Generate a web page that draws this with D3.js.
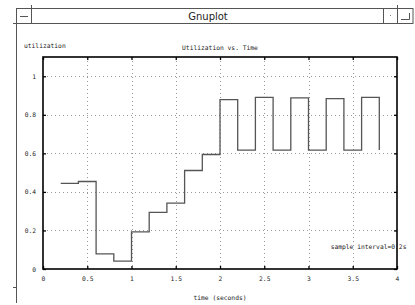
<!DOCTYPE html>
<html>
<head>
<meta charset="utf-8">
<script src="https://cdn.jsdelivr.net/npm/d3@7"></script>
<style>
  html, body { margin: 0; padding: 0; background: #fff; }
  svg { display: block; }
</style>
</head>
<body>
<script>
// ---- data ----
const times = [0.2, 0.4, 0.6, 0.8, 1.0, 1.2, 1.4, 1.6, 1.8, 2.0, 2.2, 2.4, 2.6, 2.8, 3.0, 3.2, 3.4, 3.6, 3.8];
const utilization = [0.444, 0.454, 0.078, 0.041, 0.193, 0.294, 0.342, 0.511, 0.594, 0.879, 0.617, 0.890, 0.617, 0.888, 0.617, 0.884, 0.617, 0.890, 0.617];
const xTicks = [0, 0.5, 1, 1.5, 2, 2.5, 3, 3.5, 4];
const xTickLabels = ["0", "0.5", "1", "1.5", "2", "2.5", "3", "3.5", "4"];
const yTicks = [0, 0.2, 0.4, 0.6, 0.8, 1];
const yTickLabels = ["0", "0.2", "0.4", "0.6", "0.8", "1"];
const windowTitle = "Gnuplot";
const chartTitle = "Utilization vs. Time";
const xLabel = "time (seconds)";
const yLabel = "utilization";
const note = "sample interval=0.2s";

const W = 415, H = 305;
const svg = d3.select("body").append("svg").attr("width", W).attr("height", H);

// ---- window frame ----
const frame = svg.append("g").attr("stroke", "#555").attr("fill", "none").attr("stroke-width", 1);
frame.append("rect").attr("x", 16.5).attr("y", 8.5).attr("width", 396.5).attr("height", 15).attr("fill", "#fff");
frame.append("line").attr("x1", 31.5).attr("x2", 31.5).attr("y1", 5).attr("y2", 23.5);
frame.append("line").attr("x1", 383.5).attr("x2", 383.5).attr("y1", 8.5).attr("y2", 23.5);
frame.append("line").attr("x1", 397.5).attr("x2", 397.5).attr("y1", 5).attr("y2", 23.5);
frame.append("line").attr("x1", 16.5).attr("x2", 16.5).attr("y1", 23.5).attr("y2", 303);
frame.append("line").attr("x1", 13).attr("x2", 16.5).attr("y1", 23.5).attr("y2", 23.5);
frame.append("line").attr("x1", 13).attr("x2", 16.5).attr("y1", 287.5).attr("y2", 287.5);
// button glyphs
frame.append("line").attr("x1", 20).attr("x2", 28).attr("y1", 16.5).attr("y2", 16.5);
frame.append("path").attr("d", "M401,19.5 H409.5 V13");
frame.append("rect").attr("x", 390).attr("y", 15).attr("width", 1).attr("height", 1).attr("fill", "#888").attr("stroke", "none");

svg.append("text").attr("x", 208).attr("y", 20)
  .attr("text-anchor", "middle")
  .attr("font-family", "DejaVu Sans, sans-serif").attr("font-size", 10)
  .attr("fill", "#222").text(windowTitle);

// ---- plot ----
const pLeft = 43, pRight = 397, pTop = 57, pBottom = 269;
const x = d3.scaleLinear().domain([0, 4]).range([pLeft, pRight]);
const y = d3.scaleLinear().domain([0, 1.1]).range([pBottom, pTop]);

const mono = "DejaVu Sans Mono, Liberation Mono, monospace";
const fs = 6.3;

// grid
const grid = svg.append("g").attr("stroke", "#999").attr("stroke-width", 1).attr("stroke-dasharray", "1,3");
grid.selectAll(".gx").data(xTicks.filter(t => t > 0 && t < 4)).enter().append("line")
  .attr("x1", d => Math.round(x(d)) + 0.5).attr("x2", d => Math.round(x(d)) + 0.5)
  .attr("y1", pTop).attr("y2", pBottom);
grid.selectAll(".gy").data(yTicks.filter(t => t > 0)).enter().append("line")
  .attr("x1", pLeft).attr("x2", pRight)
  .attr("y1", d => Math.round(y(d)) + 0.5).attr("y2", d => Math.round(y(d)) + 0.5);

// axes via d3 axes (ticks inward, mirrored)
const axBottom = d3.axisBottom(x).tickValues(xTicks).tickSize(-3).tickFormat((d, i) => xTickLabels[i]).tickPadding(9);
const axTop = d3.axisTop(x).tickValues(xTicks).tickSize(-3).tickFormat("");
const axLeft = d3.axisLeft(y).tickValues(yTicks).tickSize(-3).tickFormat((d, i) => yTickLabels[i]).tickPadding(7);
const axRight = d3.axisRight(y).tickValues(yTicks).tickSize(-3).tickFormat("");

function styleAxis(g) {
  g.select(".domain").remove();
  g.selectAll(".tick line").attr("stroke", "#000").attr("stroke-width", 1.3);
  g.selectAll(".tick text").attr("font-family", mono).attr("font-size", fs).attr("fill", "#222");
}
svg.append("g").attr("transform", `translate(0,${pBottom})`).call(axBottom).call(styleAxis)
  .selectAll(".tick text").attr("dy", "0.5em");
svg.append("g").attr("transform", `translate(0,${pTop})`).call(axTop).call(styleAxis);
svg.append("g").attr("transform", `translate(${pLeft},0)`).call(axLeft).call(styleAxis);
svg.append("g").attr("transform", `translate(${pRight},0)`).call(axRight).call(styleAxis);

// border
svg.append("rect").attr("x", pLeft).attr("y", pTop).attr("width", pRight - pLeft).attr("height", pBottom - pTop)
  .attr("fill", "none").attr("stroke", "#000").attr("stroke-width", 1.6);

// step line
const line = d3.line().x((d, i) => x(times[i])).y(d => y(d)).curve(d3.curveStepAfter);
svg.append("path").datum(utilization).attr("d", line)
  .attr("fill", "none").attr("stroke", "#555").attr("stroke-width", 1.3);

// texts
svg.append("text").attr("x", (pLeft + pRight) / 2).attr("y", 50).attr("text-anchor", "middle")
  .attr("font-family", mono).attr("font-size", fs).attr("fill", "#222").text(chartTitle);
svg.append("text").attr("x", 24).attr("y", 48).attr("text-anchor", "start")
  .attr("font-family", mono).attr("font-size", fs).attr("fill", "#222").text(yLabel);
svg.append("text").attr("x", (pLeft + pRight) / 2).attr("y", 300).attr("text-anchor", "middle")
  .attr("font-family", mono).attr("font-size", fs).attr("fill", "#222").text(xLabel);
svg.append("text").attr("x", x(3.25)).attr("y", y(0.115) + 2).attr("text-anchor", "start")
  .attr("font-family", mono).attr("font-size", fs).attr("fill", "#222").text(note);
</script>
</body>
</html>
